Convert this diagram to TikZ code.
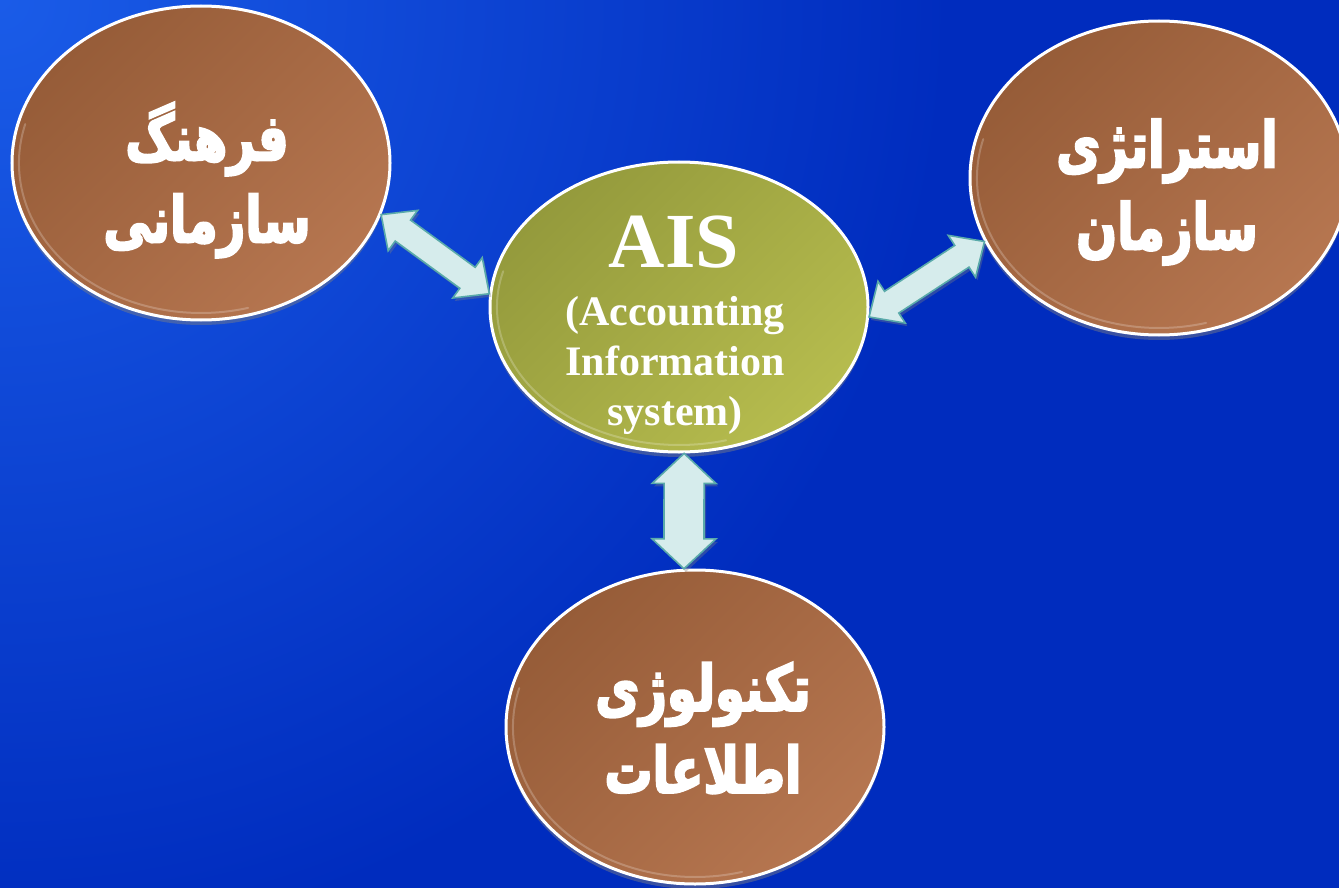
\documentclass[tikz,border=0pt]{standalone}
\usepackage{fontspec}
\setmainfont{Liberation Serif}
\newfontfamily\fa[Script=Arabic, FakeBold=3, FakeStretch=0.75]{DejaVu Sans}
\TeXXeTstate=1
\usetikzlibrary{shapes.geometric,calc,shadows}
\definecolor{bgA}{RGB}{26,92,232}
\definecolor{bgB}{RGB}{0,44,190}
\definecolor{brownA}{RGB}{150,92,56}
\definecolor{brownB}{RGB}{182,118,80}
\definecolor{oliveA}{RGB}{148,154,60}
\definecolor{oliveB}{RGB}{182,188,78}
\definecolor{arrFill}{RGB}{214,236,236}
\definecolor{arrLine}{RGB}{90,170,170}
\tikzset{
  ell/.style={ellipse, draw=white, line width=3pt, inner sep=0pt,
    minimum width=378pt, minimum height=314pt,
    drop shadow={shadow xshift=0pt, shadow yshift=-5pt, opacity=0.45}},
  brownell/.style={ell, top color=brownA, bottom color=brownB, shading angle=45},
  oliveell/.style={ell, top color=oliveA, bottom color=oliveB, shading angle=45,
    minimum height=290pt},
  fatext/.style={text=white, align=center,
    font=\fa\bfseries\fontsize{64}{82}\selectfont},
  aistext/.style={text=white, anchor=base, font=\bfseries\fontsize{42}{44}\selectfont},
  fatarrowstyle/.style={fill=arrFill, draw=arrLine, line width=1.6pt, line join=miter,
    drop shadow={shadow xshift=2pt, shadow yshift=-3pt, opacity=0.35}},
  glint/.style={white, opacity=0.22, line width=2pt, line cap=round}
}
\newcommand\fatarrow[5]{%
\draw[fatarrowstyle] let \p1=($(#2)-(#1)$), \n1={atan2(\y1,\x1)} in
 (#1) -- ($(#1)+(\n1:#3)+(\n1+90:#4)$) -- ($(#1)+(\n1:#3)+(\n1+90:#5)$)
 -- ($(#2)+(\n1:-#3)+(\n1+90:#5)$) -- ($(#2)+(\n1:-#3)+(\n1+90:#4)$) -- (#2)
 -- ($(#2)+(\n1:-#3)+(\n1-90:#4)$) -- ($(#2)+(\n1:-#3)+(\n1-90:#5)$)
 -- ($(#1)+(\n1:#3)+(\n1-90:#5)$) -- ($(#1)+(\n1:#3)+(\n1-90:#4)$) -- cycle;}
\newcommand\rimglint[1]{%
\draw[glint] ([shift={(165:182pt and 150pt)}]#1.center)
  arc[start angle=165, end angle=285, x radius=182pt, y radius=150pt];}
\begin{document}
\begin{tikzpicture}[x=1pt,y=-1pt]
\useasboundingbox (0,0) rectangle (1339,888);
\fill[bgB] (0,0) rectangle (1339,888);
\begin{scope}
\clip (0,0) rectangle (1339,888);
\shade[inner color=bgA, outer color=bgB] (0,0) circle[radius=950];
\end{scope}

\node[brownell] (L) at (201,163) {};
\node[oliveell] (C) at (679,307) {};
\node[brownell] (R) at (1159,178) {};
\node[brownell] (B) at (695,727) {};
\rimglint{L}
\rimglint{R}
\rimglint{B}
\draw[glint] ([shift={(165:182pt and 138pt)}]C.center)
  arc[start angle=165, end angle=285, x radius=182pt, y radius=138pt];

\coordinate (a1) at (L.-16);
\coordinate (a2) at (C.176);
\coordinate (b1) at (R.200);
\coordinate (b2) at (C.-3);
\coordinate (c1) at (C.-88);
\coordinate (c2) at (B.94);
\fatarrow{a1}{a2}{27pt}{25pt}{13pt}
\fatarrow{b1}{b2}{27pt}{25pt}{13pt}
\fatarrow{c1}{c2}{30pt}{32pt}{20pt}

\node[fatext] (Lt) at (207,180) {\beginR فرهنگ\endR\\\beginR سازمانی\endR};
\node[fatext] (Rt) at (1167,192) {\beginR استراتژی\endR\\\beginR سازمان\endR};
\node[fatext] (Bt) at (703,728) {\beginR تکنولوژی\endR\\\beginR اطلاعات\endR};

\node[aistext, font=\bfseries\fontsize{78}{80}\selectfont] (ais1) at (674,267) {AIS};
\node[aistext] (ais2) at (675,325) {(Accounting};
\node[aistext] (ais3) at (675,375) {Information};
\node[aistext] (ais4) at (675,425) {system)};
\end{tikzpicture}
\end{document}
